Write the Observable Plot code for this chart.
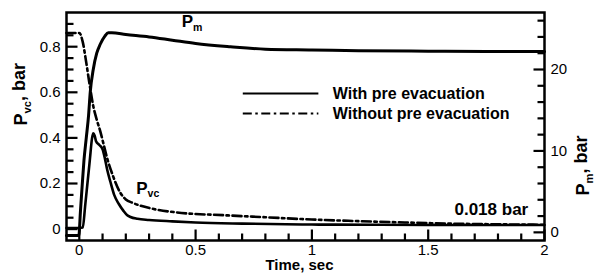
<!DOCTYPE html>
<html>
<head>
<meta charset="utf-8">
<script src="https://cdn.jsdelivr.net/npm/d3@7"></script>
<script src="https://cdn.jsdelivr.net/npm/@observablehq/plot@0.6"></script>
<style>
  html, body { margin: 0; padding: 0; background: #fff; }
  #chart { width: 595px; height: 278px; }
</style>
</head>
<body>
<div id="chart"></div>
<script>
// ---- data ----
// vacuum-chamber pressure P_vc [bar], with pre evacuation
const pvcWithT = [-0.055, 0.0, 0.015, 0.025, 0.035, 0.045, 0.055, 0.06, 0.066, 0.072, 0.085, 0.1, 0.11, 0.12, 0.133, 0.15, 0.17, 0.19, 0.205, 0.22, 0.25, 0.3, 0.4, 0.5, 0.7, 1.0, 1.25, 1.5, 1.75, 2.0];
const pvcWithV = [0.005, 0.005, 0.007, 0.1, 0.2, 0.3, 0.4, 0.42, 0.41, 0.385, 0.37, 0.35, 0.31, 0.26, 0.21, 0.15, 0.11, 0.08, 0.062, 0.053, 0.045, 0.04, 0.034, 0.029, 0.024, 0.02, 0.019, 0.018, 0.018, 0.018];
// P_vc without pre evacuation
const pvcWithoutT = [-0.055, 0.0, 0.015, 0.03, 0.045, 0.06, 0.075, 0.09, 0.105, 0.12, 0.146, 0.176, 0.2, 0.23, 0.32, 0.42, 0.64, 0.8, 1.0, 1.2, 1.4, 1.6, 1.8, 2.0];
const pvcWithoutV = [0.86, 0.86, 0.82, 0.73, 0.63, 0.54, 0.48, 0.43, 0.37, 0.31, 0.23, 0.16, 0.13, 0.115, 0.088, 0.073, 0.06, 0.052, 0.042, 0.035, 0.029, 0.024, 0.021, 0.019];
// main pressure P_m [bar] (right axis)
const pmT = [-0.055, -0.002, 0.005, 0.013, 0.02, 0.03, 0.04, 0.047, 0.06, 0.075, 0.09, 0.11, 0.125, 0.14, 0.2, 0.3, 0.4, 0.5, 0.65, 0.8, 1.0, 1.2, 1.5, 1.75, 2.0];
const pmV = [-0.4, -0.4, 2.6, 6.0, 8.8, 11.6, 14.4, 17.2, 20.0, 22.0, 23.1, 24.1, 24.5, 24.5, 24.3, 24.0, 23.6, 23.2, 22.8, 22.5, 22.4, 22.3, 22.25, 22.2, 22.2];

const xTicks = [0, 0.5, 1, 1.5, 2];
const leftTicks = [0, 0.2, 0.4, 0.6, 0.8];
const rightTicks = [0, 10, 20];
const legendLabels = ["With pre evacuation", "Without pre evacuation"];

// ---- scales ----
const xDomain = [-0.055, 2];
const yDomain = [-0.05, 0.95];       // left axis, bar
const rDomain = [-1, 27];            // right axis, bar
const toLeft = b => yDomain[0] + (b - rDomain[0]) / (rDomain[1] - rDomain[0]) * (yDomain[1] - yDomain[0]);
const fromLeft = v => rDomain[0] + (v - yDomain[0]) / (yDomain[1] - yDomain[0]) * (rDomain[1] - rDomain[0]);

const W = 595, H = 278, mL = 66, mR = 51, mT = 12, mB = 38;
const plotW = W - mL - mR, plotH = H - mT - mB;
const pxX = (xDomain[1] - xDomain[0]) / plotW;   // data units per pixel
const pxY = (yDomain[1] - yDomain[0]) / plotH;

const zipT = (ts, vs) => ts.map((t, i) => ({t, v: vs[i]}));
const pvcWith = zipT(pvcWithT, pvcWithV);
const pvcWithout = zipT(pvcWithoutT, pvcWithoutV);
const pm = zipT(pmT, pmV).map(d => ({t: d.t, v: toLeft(d.v)}));

const range = (a, b, s) => { const r = []; for (let v = a; v <= b + 1e-9; v += s) r.push(+v.toFixed(4)); return r; };
const leftMinor = range(0.05, 0.9, 0.05).filter(v => !leftTicks.some(m => Math.abs(m - v) < 1e-6));
const rightMinor = range(2, 26, 2).filter(v => !rightTicks.includes(v));
const xMinor = range(0.1, 1.9, 0.1).filter(v => !xTicks.some(m => Math.abs(m - v) < 1e-6));

// tick segments (inward), lengths in pixels converted to data units
const majorLen = 11, minorLen = 7;
const tickSegs = [
  ...leftTicks.map(v => ({x1: xDomain[0], x2: xDomain[0] + majorLen * pxX, y1: v, y2: v})),
  ...leftMinor.map(v => ({x1: xDomain[0], x2: xDomain[0] + minorLen * pxX, y1: v, y2: v})),
  ...rightTicks.map(b => ({x1: xDomain[1] - majorLen * pxX, x2: xDomain[1], y1: toLeft(b), y2: toLeft(b)})),
  ...rightMinor.map(b => ({x1: xDomain[1] - minorLen * pxX, x2: xDomain[1], y1: toLeft(b), y2: toLeft(b)})),
  ...xTicks.map(t => ({x1: t, x2: t, y1: yDomain[0], y2: yDomain[0] + majorLen * pxY})),
  ...xMinor.map(t => ({x1: t, x2: t, y1: yDomain[0], y2: yDomain[0] + minorLen * pxY}))
];

const dashDot = "9,3.5,2.5,3.5";
const font = "'Liberation Sans', Arial, Helvetica, sans-serif";

const legendData = legendLabels.map((label, i) => ({label, i, y: 0.595 - i * 0.088}));
const legX1 = 0.705, legX2 = 1.03, legTextX = 1.09;

const chart = Plot.plot({
  width: W, height: H,
  marginLeft: mL, marginRight: mR, marginTop: mT, marginBottom: mB,
  style: {fontFamily: font, fontSize: "15px", color: "#000", background: "#fff", overflow: "visible"},
  x: {domain: xDomain, label: null},
  y: {domain: yDomain, label: null},
  marks: [
    // curves
    Plot.line(pm, {x: "t", y: "v", stroke: "#000", strokeWidth: 3, curve: "monotone-x"}),
    Plot.line(pvcWithout, {x: "t", y: "v", stroke: "#000", strokeWidth: 2.6, strokeDasharray: dashDot, curve: "monotone-x"}),
    Plot.line(pvcWith, {x: "t", y: "v", stroke: "#000", strokeWidth: 2.6, curve: "monotone-x"}),
    // ticks (inward)
    Plot.link(tickSegs, {x1: "x1", y1: "y1", x2: "x2", y2: "y2", stroke: "#000", strokeWidth: 2.2}),
    // tick labels
    Plot.axisX({ticks: xTicks, tickSize: 0, tickPadding: 4, tickFormat: d => String(d), label: null}),
    Plot.axisY({ticks: leftTicks, tickSize: 0, tickPadding: 6, tickFormat: d => String(+d.toFixed(2)), label: null}),
    Plot.axisY({anchor: "right", ticks: rightTicks.map(toLeft), tickSize: 0, tickPadding: 6, tickFormat: d => String(Math.round(fromLeft(d))), label: null}),
    // axis titles
    Plot.text(["P_{vc}, bar"], {frameAnchor: "left", dx: -45, dy: -1, rotate: -90, fontWeight: "bold", fontSize: 18}),
    Plot.text(["P_{m}, bar"], {frameAnchor: "right", dx: 39, dy: 9, rotate: -90, fontWeight: "bold", fontSize: 18}),
    Plot.text(["Time, sec"], {frameAnchor: "bottom", dy: 29, dx: -6, fontWeight: "bold", fontSize: 15}),
    // annotations
    Plot.text(["P_{m}"], {x: 0.44, y: 0.885, textAnchor: "start", lineAnchor: "bottom", fontWeight: "bold", fontSize: 17}),
    Plot.text(["P_{vc}"], {x: 0.245, y: 0.156, textAnchor: "start", lineAnchor: "bottom", fontWeight: "bold", fontSize: 17}),
    Plot.text(["0.018 bar"], {x: 1.93, y: 0.06, textAnchor: "end", lineAnchor: "bottom", fontWeight: "bold", fontSize: 17}),
    // legend
    Plot.ruleY(legendData.filter(d => d.i === 0), {y: "y", x1: legX1, x2: legX2, strokeWidth: 2}),
    Plot.ruleY(legendData.filter(d => d.i === 1), {y: "y", x1: legX1, x2: legX2, strokeWidth: 2, strokeDasharray: dashDot}),
    Plot.text(legendData, {x: legTextX, y: "y", text: "label", textAnchor: "start", fontWeight: "bold", fontSize: 16}),
    Plot.frame({stroke: "#000", strokeWidth: 2.5})
  ]
});

// subscripts: "A_{b}c" -> A<sub>b</sub>c
d3.select(chart).selectAll("text").each(function () {
  const el = this;
  const nodes = el.querySelector("tspan") ? Array.from(el.querySelectorAll("tspan")) : [el];
  nodes.forEach(node => {
    const s = node.textContent;
    const m = s.match(/^(.*)_\{(.*)\}(.*)$/);
    if (!m) return;
    node.textContent = "";
    const sel = d3.select(node);
    sel.append("tspan").text(m[1]);
    sel.append("tspan").attr("dy", "0.35em").attr("font-size", "0.62em").text(m[2]);
    if (m[3]) sel.append("tspan").attr("dy", "-0.35em").text(m[3]);
  });
});

document.getElementById("chart").appendChild(chart);
</script>
</body>
</html>
